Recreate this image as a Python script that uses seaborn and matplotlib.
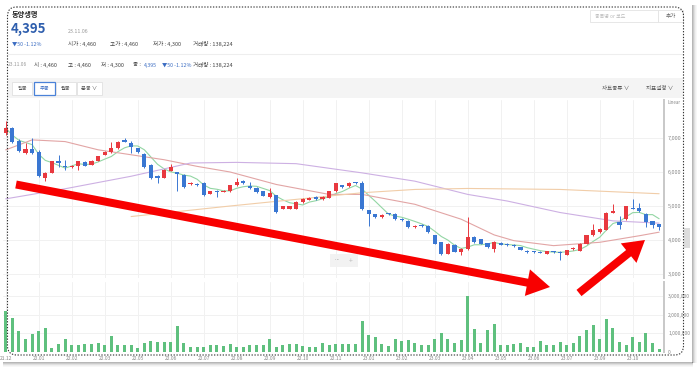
import numpy as np
import pandas as pd
import matplotlib
matplotlib.use("Agg")
import matplotlib.pyplot as plt
import seaborn as sns
from matplotlib.patches import Rectangle, FancyBboxPatch, FancyArrow

# ---------- data (weekly candles 21.12 ~ 23.11.06) ----------
opens = [7160, 7290, 6925, 6555, 6690, 6600, 5830, 5975, 6310, 6185,
         6150, 6186, 6294, 6216, 6332, 6507, 6574, 6703, 6945, 6866,
         6703, 6528, 6216, 5875, 5828, 6041, 5992, 5924, 5633, 5660,
         5682, 5362, 5450, 5420, 5438, 5603, 5750, 5583, 5536, 5438,
         5260, 5312, 4924, 4924, 4924, 5117, 5180, 5275, 5200, 5245,
         5430, 5612, 5583, 5700, 5682, 4875, 4758, 4662, 4780, 4778,
         4630, 4563, 4370, 4440, 4417, 4146, 3932, 3592, 3854, 3660,
         3738, 4090, 4030, 3912, 3738, 3912, 3880, 3850, 3787, 3689,
         3670, 3660, 3592, 3670, 3660, 3572, 3730, 3689, 3883, 4146,
         4224, 4300, 4807, 4535, 4612, 4953, 4942, 4778, 4545, 4460]
highs = [7500, 7330, 6960, 6850, 6990, 6640, 6000, 6330, 6500, 6350,
         6220, 6330, 6310, 6350, 6470, 6620, 6895, 6920, 7000, 6900,
         6720, 6550, 6240, 5900, 6090, 6250, 6010, 5940, 5700, 5680,
         5700, 5450, 5470, 5470, 5620, 5820, 5760, 5700, 5550, 5450,
         5520, 5330, 5010, 5000, 5140, 5230, 5260, 5290, 5290, 5450,
         5680, 5630, 5700, 5720, 5750, 4890, 4770, 4750, 4800, 4790,
         4640, 4580, 4430, 4460, 4430, 4160, 3950, 3900, 3870, 3750,
         4690, 4110, 4040, 3920, 3970, 3930, 3900, 3870, 3800, 3700,
         3690, 3680, 3690, 3690, 3680, 3720, 3780, 3900, 4160, 4466,
         4340, 4820, 5050, 4700, 5010, 5215, 5100, 4790, 4560, 4460]
lows = [7100, 6850, 6600, 6530, 6520, 5850, 5750, 5960, 6150, 6050,
        6120, 6050, 6170, 6200, 6320, 6490, 6550, 6690, 6880, 6550,
        6560, 6120, 5800, 5683, 5810, 6020, 5440, 5530, 5620, 5590,
        5290, 5350, 5250, 5400, 5420, 5590, 5650, 5510, 5390, 5280,
        5240, 4800, 4900, 4910, 4910, 5100, 5170, 5190, 5190, 5230,
        5420, 5540, 5570, 5660, 4880, 4417, 4650, 4650, 4740, 4600,
        4570, 4350, 4360, 4390, 4210, 3870, 3570, 3580, 3640, 3560,
        3720, 3920, 3870, 3770, 3640, 3850, 3830, 3800, 3700, 3630,
        3630, 3620, 3580, 3630, 3426, 3560, 3720, 3680, 3870, 4130,
        4210, 4290, 4800, 4320, 4600, 4910, 4830, 4380, 4350, 4300]
closes = [7290, 6880, 6630, 6670, 6555, 5875, 5975, 6310, 6265, 6150,
          6186, 6312, 6186, 6332, 6458, 6603, 6703, 6895, 6895, 6749,
          6586, 6148, 5828, 5828, 6070, 6148, 5945, 5554, 5682, 5610,
          5312, 5438, 5420, 5450, 5603, 5700, 5662, 5525, 5408, 5292,
          5380, 4825, 5000, 4990, 5126, 5215, 5245, 5200, 5275, 5437,
          5662, 5554, 5682, 5680, 4904, 4758, 4662, 4740, 4750, 4612,
          4580, 4370, 4417, 4400, 4224, 3883, 3592, 3883, 3660, 3738,
          4078, 3940, 3883, 3787, 3951, 3864, 3850, 3810, 3708, 3640,
          3640, 3630, 3670, 3640, 3610, 3708, 3760, 3883, 4146, 4292,
          4321, 4807, 4854, 4437, 5000, 4924, 4845, 4515, 4447, 4395]
volume_mil = [2.2, 1.83, 1.12, 0.68, 0.98, 1.1, 1.3, 0.2, 0.42, 0.67,
              0.37, 0.37, 0.45, 0.45, 0.5, 0.4, 0.84, 0.37, 0.4, 0.4,
              0.2, 0.5, 0.6, 0.55, 0.55, 0.55, 1.37, 0.5, 0.25, 0.25,
              0.28, 0.37, 0.35, 0.32, 0.45, 0.25, 0.25, 0.35, 0.35, 0.35,
              0.68, 0.28, 0.37, 0.45, 0.45, 0.32, 0.28, 0.28, 0.5, 0.35,
              0.45, 0.42, 0.45, 0.45, 1.65, 0.9, 0.8, 0.45, 0.3, 0.68,
              0.6, 0.65, 0.48, 0.4, 0.38, 0.7, 1.03, 0.68, 0.48, 0.62,
              3.0, 1.22, 0.48, 1.17, 1.5, 0.37, 0.35, 0.45, 0.46, 0.27,
              0.27, 0.57, 0.4, 0.4, 0.55, 0.38, 0.47, 0.88, 1.17, 1.47,
              0.68, 1.77, 1.3, 0.55, 0.4, 0.8, 0.52, 1.0, 0.48, 0.138]

# moving averages (candle index, price)
ma20_idx = [0, 4, 9, 14, 19, 24, 29, 34, 41, 49, 54, 62, 69, 74, 77, 83, 90, 96, 99]
ma20 = [6650, 6945, 6895, 6653, 6507, 6361, 6166, 6000, 5633, 5341,
        5341, 5050, 4612, 4150, 3980, 3834, 3932, 4125, 4230]
ma60_idx = [0, 9, 19, 28, 35, 44, 54, 62, 70, 76, 84, 92, 99]
ma60 = [5210, 5507, 5875, 6265, 6283, 6245, 5974, 5730, 5341, 5146, 4808, 4563, 4495]
ma120_idx = [19, 34, 44, 54, 62, 70, 84, 99]
ma120 = [4690, 5000, 5195, 5390, 5487, 5516, 5487, 5361]

xtick_labels = ["21.12", "22.01", "22.02", "22.03", "22.05", "22.06", "22.07",
                "22.08", "22.09", "22.10", "22.11", "23.01", "23.02", "23.03",
                "23.04", "23.05", "23.06", "23.07", "23.09", "23.10"]
price_ticks = [3000, 4000, 5000, 6000, 7000]
vol_ticks = [0, 1, 2, 3]

# ---------- setup ----------
sns.set_theme(style="white")
plt.rcParams["font.family"] = ["Noto Sans CJK KR", "DejaVu Sans"]

RED, BLUE, GREEN = "#e8393f", "#3a77d2", "#5fc07e"

df = pd.DataFrame({"o": opens, "h": highs, "l": lows, "c": closes,
                   "v": np.array(volume_mil) * 1e6})
df["i"] = np.arange(len(df))
df["ma5"] = df["c"].rolling(5, min_periods=1).mean()
colors = np.where(df["c"] >= df["o"], RED, BLUE)

fig = plt.figure(figsize=(7, 3.72), dpi=100)

ui = fig.add_axes([0, 0, 1, 1], zorder=0)
ui.set_xlim(0, 700)
ui.set_ylim(372, 0)
ui.axis("off")

ax = fig.add_axes([3 / 700, 1 - 278 / 372, 661 / 700, 178 / 372], zorder=2)
axv = fig.add_axes([3 / 700, 1 - 352 / 372, 661 / 700, 70 / 372], zorder=2)

# ---------- price panel ----------
ax.vlines(df["i"], df["l"], df["h"], color=colors, lw=0.7, zorder=3)
ax.bar(df["i"], np.maximum((df["c"] - df["o"]).abs(), 25),
       bottom=np.minimum(df["o"], df["c"]), width=0.62, color=colors,
       linewidth=0, zorder=4)
sns.lineplot(x=df["i"], y=df["ma5"], ax=ax, color="#93d6a4", lw=0.8, zorder=2)
sns.lineplot(x=ma20_idx, y=ma20, ax=ax, color="#e2a5a5", lw=0.8, zorder=2)
sns.lineplot(x=ma60_idx, y=ma60, ax=ax, color="#cdb0e3", lw=0.8, zorder=2)
sns.lineplot(x=ma120_idx, y=ma120, ax=ax, color="#f1cda8", lw=0.8, zorder=2)

ax.set_xlim(-0.41, 99.74)
ax.set_ylim(2882, 8118)
ax.set_xticks(df["i"][::5])
ax.set_xticklabels([])
ax.set_yticks(price_ticks)
ax.set_yticklabels([f"{t:,}" for t in price_ticks])
ax.yaxis.tick_right()
ax.tick_params(axis="y", length=0, pad=3, labelsize=4, labelcolor="#888888")
ax.tick_params(axis="x", length=0)
ax.grid(True, color="#f1f1f1", lw=0.7)
ax.set_xlabel("")
ax.set_ylabel("")
for s in ["top", "left", "bottom"]:
    ax.spines[s].set_visible(False)
ax.spines["right"].set_color("#c8c8c8")
ax.spines["right"].set_linewidth(1.4)
ax.patch.set_alpha(0)

# ---------- volume panel ----------
sns.barplot(x=df["i"], y=df["v"], ax=axv, native_scale=True, color=GREEN,
            saturation=1, width=0.48, errorbar=None, linewidth=0, zorder=3)
axv.set_xlim(-0.41, 99.74)
axv.set_ylim(0, 3.75e6)
axv.set_xticks(df["i"][::5])
axv.set_xticklabels(xtick_labels)
axv.set_yticks([t * 1e6 for t in vol_ticks])
axv.set_yticklabels(["0", "1,000,000", "2,000,000", "3,000,000"])
axv.yaxis.tick_right()
axv.tick_params(axis="y", length=0, pad=3, labelsize=3.6, labelcolor="#888888")
axv.tick_params(axis="x", length=0, pad=3, labelsize=3.6, labelcolor="#888888")
axv.grid(True, color="#f1f1f1", lw=0.7)
axv.set_xlabel("")
axv.set_ylabel("")
for s in ["top", "left", "bottom"]:
    axv.spines[s].set_visible(False)
axv.spines["right"].set_color("#c8c8c8")
axv.spines["right"].set_linewidth(1.4)
axv.patch.set_alpha(0)

# ---------- screenshot chrome ----------
for k, a in enumerate([0.35, 0.25, 0.15, 0.08, 0.04]):
    ui.add_patch(Rectangle((3, 362 + k), 690, 1, color="#333333", alpha=a, lw=0))
    ui.add_patch(Rectangle((692 + k, 5), 1, 358, color="#333333", alpha=a, lw=0))

ui.text(12, 15, "동양생명", fontsize=5.2, color="#222222", fontweight="bold", va="center")
ui.text(11, 29, "4,395", fontsize=9.5, color="#2f5fae", fontweight="bold", va="center")
ui.text(68, 31.5, "23.11.06", fontsize=3.8, color="#999999", va="center")
ui.text(12, 44, "▼50 -1.12%", fontsize=3.8, color="#3a6cc2", va="center")
for x, s in [(68, "시가 : 4,460"), (110, "고가 : 4,460"), (153, "저가 : 4,300"),
             (193, "거래량 : 138,224")]:
    ui.text(x, 44, s, fontsize=4, color="#444444", va="center")
ui.plot([8, 683], [53.5, 53.5], color="#eeeeee", lw=0.8)

ui.text(8, 65, "23.11.06", fontsize=3.6, color="#999999", va="center")
for x, s in [(34, "시 : 4,460"), (68, "고 : 4,460"), (101, "저 : 4,300"), (133, "종 :")]:
    ui.text(x, 65, s, fontsize=4, color="#444444", va="center")
ui.text(144, 65, "4,395", fontsize=3.8, color="#3a6cc2", va="center")
ui.text(162, 65, "▼50 -1.12%", fontsize=3.8, color="#3a6cc2", va="center")
ui.text(193, 65, "거래량 : 138,224", fontsize=4, color="#444444", va="center")

# search box
ui.add_patch(Rectangle((590, 10), 68, 12, fc="white", ec="#e3e3e3", lw=0.6))
ui.text(595, 16, "종목명 or 코드", fontsize=3.6, color="#bbbbbb", va="center")
ui.add_patch(Rectangle((658, 10), 25, 12, fc="white", ec="#e3e3e3", lw=0.6))
ui.text(670.5, 16, "추가", fontsize=4, color="#666666", va="center", ha="center")

# tab bar
ui.add_patch(Rectangle((8, 78), 675, 20, fc="#f4f4f4", lw=0))
for (x0, w, s, sel) in [(12, 20, "일봉", False), (34, 21, "주봉", True),
                        (56, 20, "월봉", False), (77, 25, "분봉 ∨", False)]:
    ui.add_patch(Rectangle((x0, 82), w, 13, fc="white",
                           ec="#4a82d8" if sel else "#e0e0e0", lw=0.6 if not sel else 0.9))
    ui.text(x0 + w / 2, 88.5, s, fontsize=3.8, color="#3a6cc2" if sel else "#555555",
            ha="center", va="center")
ui.text(602, 88, "차트종류 ∨", fontsize=4, color="#555555", va="center")
ui.text(646, 88, "지표설정 ∨", fontsize=4, color="#555555", va="center")

ui.text(667, 103, "Linear", fontsize=3.2, color="#888888", va="center")
ui.add_patch(Rectangle((684, 228), 6, 20, fc="#dddddd", lw=0))
ui.add_patch(Rectangle((330, 254), 28, 13, fc="#f2f2f2", lw=0))
ui.text(337, 260.5, "−", fontsize=5, color="#bbbbbb", ha="center", va="center")
ui.text(351, 260.5, "+", fontsize=5, color="#bbbbbb", ha="center", va="center")

# ---------- overlay: dashed border + red arrows ----------
top = fig.add_axes([0, 0, 1, 1], zorder=5)
top.set_xlim(0, 700)
top.set_ylim(372, 0)
top.axis("off")
top.patch.set_alpha(0)

top.add_patch(FancyBboxPatch((7.5, 7), 676, 348,
                             boxstyle="round,pad=0,rounding_size=9",
                             fc="none", ec="#333333", lw=0.8, ls=(0, (1.2, 1.4))))
top.add_patch(FancyArrow(16, 184.5, 534, 102.5, width=8, head_width=27,
                         head_length=23, length_includes_head=True,
                         color="#f80000", lw=0))
top.add_patch(FancyArrow(579, 293, 66, -53, width=8, head_width=25,
                         head_length=21, length_includes_head=True,
                         color="#f80000", lw=0))

fig.savefig("out.png", dpi=100)
